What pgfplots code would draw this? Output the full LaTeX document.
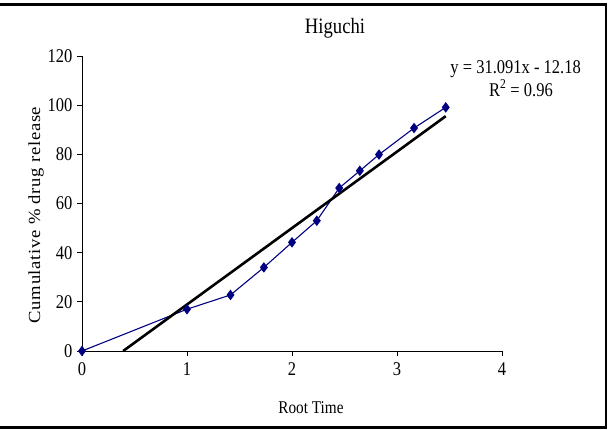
\documentclass[border=0pt]{standalone}
\usepackage{fontspec}
\setmainfont[FakeStretch=0.85]{Liberation Serif}
\newfontfamily\ylabfont[FakeStretch=1.1,LetterSpace=4]{Liberation Serif}
\usepackage{pgfplots}
\pgfplotsset{compat=1.18}
\definecolor{navy}{RGB}{0,0,128}

\begin{document}
\begin{tikzpicture}[x=1bp,y=1bp]
\useasboundingbox (0,0) rectangle (611,429);
% frame edges
\draw[line width=3bp] (0,424.5) -- (607,424.5);
\draw[line width=3.5bp] (0,1.75) -- (607,1.75);
\draw[line width=2bp] (606,0) -- (606,426);

\begin{axis}[
  at={(82bp,78bp)}, anchor=origin,
  scale only axis, width=420bp, height=295bp,
  xmin=0, xmax=4, ymin=0, ymax=120,
  axis x line=bottom, axis y line=left,
  axis line style={-, line width=0.8pt},
  xtick={0,1,2,3,4}, ytick={0,20,40,60,80,100,120},
  tick align=outside, major tick length=5bp,
  tick style={black, line width=0.8pt},
  /pgf/number format/assume math mode=true,
  ticklabel style={font=\fontsize{19.5}{20}\selectfont},
  xticklabel style={yshift=-3bp},
  yticklabel style={xshift=-1bp},
  clip=false,
]
% cumulative release against square root of time
\addplot[navy, line width=1.1pt, mark=diamond*, mark size=4.4bp,
  mark options={fill=navy, draw=navy}] coordinates {
  (0,0) (1,17.0) (1.4142,22.8) (1.7321,34.0) (2,44.2) (2.2361,53.0)
  (2.4495,66.3) (2.6458,73.3) (2.8284,79.9) (3.1623,90.7) (3.4641,99.1)
};
% linear fit y = 31.091x - 12.18
\addplot[black, line width=2.6pt] coordinates {
  (0.3918,0) (3.4641,95.52)
};
\node[font=\fontsize{19.5}{20}\selectfont] at (axis cs:4.13,114.8) {y = 31.091x - 12.18};
\node[font=\fontsize{19.5}{20}\selectfont] at (axis cs:4.18,107.0) {R\textsuperscript{2} = 0.96};
\end{axis}

\node[font=\fontsize{22}{24}\selectfont] at (335,401) {Higuchi};
\node[font=\fontsize{18}{20}\selectfont] at (311,21) {Root Time};
\node[rotate=90, font=\fontsize{17}{18}\ylabfont] at (36,214) {Cumulative \% drug release};
\end{tikzpicture}
\end{document}
